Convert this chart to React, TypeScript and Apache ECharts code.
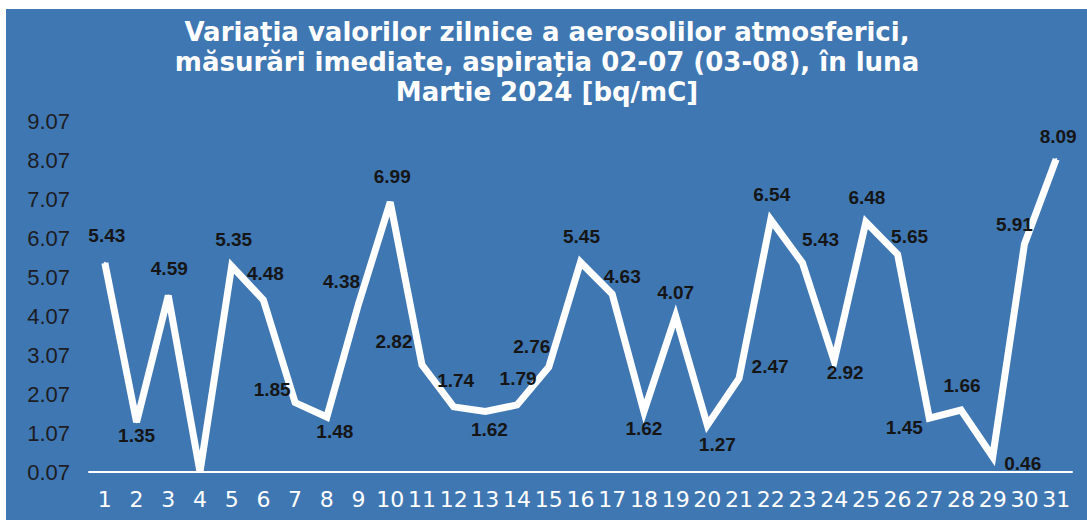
import React, { useEffect, useRef } from "react";
import * as echarts from "echarts";

const titleLines = [
  "Variația valorilor zilnice a aerosolilor atmosferici,",
  "măsurări imediate, aspirația 02-07 (03-08), în luna",
  "Martie 2024 [bq/mC]",
];

const days = [
  "1", "2", "3", "4", "5", "6", "7", "8", "9", "10",
  "11", "12", "13", "14", "15", "16", "17", "18", "19", "20",
  "21", "22", "23", "24", "25", "26", "27", "28", "29", "30", "31",
];

const values = [
  5.43, 1.35, 4.59, 0.07, 5.35, 4.48, 1.85, 1.48, 4.38, 6.99,
  2.82, 1.74, 1.62, 1.79, 2.76, 5.45, 4.63, 1.62, 4.07, 1.27,
  2.47, 6.54, 5.43, 2.92, 6.48, 5.65, 1.45, 1.66, 0.46, 5.91, 8.09,
];

// days whose value label is not printed
const unlabeledDays = ["4"];

// label placement offsets [dx, dy] relative to each point (style only)
const labelOffsets: number[][] = [
  [2, -27], [0, 13], [1, -27], [0, 0], [2, -27], [2, -27], [-23, -13], [8, 14], [-17, -22], [2, -26],
  [-28, -23], [2, -26], [4, 18], [1, -26], [-17, -21], [1, -26], [10, -18], [0, 17], [0, -24], [10, 19],
  [31, -12], [1, -25], [18, -23], [11, 12], [1, -25], [12, -18], [-25, 9], [1, -24], [30, 7], [-10, -20], [2, -23],
];

const yMin = 0.07;
const yMax = 9.07;
const yStep = 1;

export default function App() {
  const ref = useRef<HTMLDivElement>(null);

  useEffect(() => {
    if (!ref.current) return;
    const chart = echarts.init(ref.current, undefined, { renderer: "svg" });

    const seriesData = values.map((v, i) => ({
      value: v,
      label: {
        show: !unlabeledDays.includes(days[i]),
        offset: labelOffsets[i],
      },
    }));

    chart.setOption({
      animation: false,
      backgroundColor: "#ffffff",
      graphic: [
        {
          type: "rect",
          shape: { x: 6, y: 9, width: 1081, height: 511 },
          style: { fill: "#3f77b3" },
          z: -10,
          silent: true,
        },
        ...titleLines.map((t, i) => ({
          type: "text",
          x: 547,
          y: 32 + i * 30,
          style: {
            text: t,
            fill: "#ffffff",
            font: "bold 26px 'DejaVu Sans'",
            textAlign: "center",
            textVerticalAlign: "middle",
          },
          z: 10,
        })),
      ],
      grid: { left: 89, right: 15, top: 121, bottom: 48, containLabel: false },
      xAxis: {
        type: "category",
        data: days,
        boundaryGap: true,
        axisLine: { show: true, lineStyle: { color: "#ffffff", width: 2 } },
        axisTick: { show: false },
        axisLabel: {
          interval: 0,
          color: "#ffffff",
          fontFamily: "'DejaVu Sans'",
          fontSize: 22,
          margin: 16,
        },
        splitLine: { show: false },
      },
      yAxis: {
        type: "value",
        min: yMin,
        max: yMax,
        interval: yStep,
        axisLine: { show: false },
        axisTick: { show: false },
        splitLine: { show: false },
        axisLabel: {
          color: "#1c1c22",
          fontFamily: "'Liberation Sans', Arial",
          fontSize: 22,
          margin: 19,
          formatter: (v: number) => v.toFixed(2),
        },
      },
      series: [
        {
          type: "line",
          data: seriesData,
          clip: false,
          showSymbol: true,
          symbol: "circle",
          symbolSize: 2,
          itemStyle: { color: "#ffffff" },
          lineStyle: { color: "#ffffff", width: 7, join: "miter" },
          label: {
            show: true,
            position: "inside",
            color: "#151515",
            fontFamily: "'Liberation Sans', Arial",
            fontWeight: "bold",
            fontSize: 19,
            formatter: (p: any) => Number(p.value).toFixed(2),
          },
          emphasis: { disabled: true },
        },
      ],
    });

    return () => chart.dispose();
  }, []);

  return (
    <div
      ref={ref}
      style={{ position: "fixed", left: 0, top: 0, width: 1087, height: 520 }}
    />
  );
}
